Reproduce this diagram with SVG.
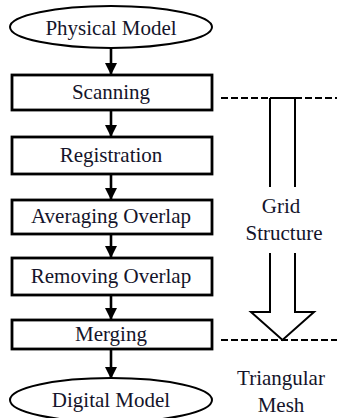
<svg xmlns="http://www.w3.org/2000/svg" width="337" height="418" viewBox="0 0 337 418">
<defs>
<style>
.box{fill:#fff;stroke:#000;stroke-width:2.8}
.oval{fill:#fff;stroke:#000;stroke-width:2}
.t{font-size:21px;fill:#14142a;text-anchor:middle}
.conn{stroke:#000;stroke-width:2.6;fill:none}
.dash{stroke:#000;stroke-width:2;stroke-dasharray:7 3;fill:none}
.big{stroke:#000;stroke-width:2;fill:none}
</style>
<marker id="ah" markerWidth="12" markerHeight="12" refX="11" refY="6" orient="auto" markerUnits="userSpaceOnUse">
<path d="M0,0 L12,6 L0,12 Z" fill="#000"/>
</marker>
</defs>
<rect width="337" height="418" fill="#fff"/>
<g id="connectors">
<line class="conn" x1="111" y1="48" x2="111" y2="74" marker-end="url(#ah)"/>
<line class="conn" x1="111" y1="111" x2="111" y2="136" marker-end="url(#ah)"/>
<line class="conn" x1="111" y1="175" x2="111" y2="199" marker-end="url(#ah)"/>
<line class="conn" x1="111" y1="235" x2="111" y2="257" marker-end="url(#ah)"/>
<line class="conn" x1="111" y1="296" x2="111" y2="319" marker-end="url(#ah)"/>
<line class="conn" x1="111" y1="350" x2="111" y2="378" marker-end="url(#ah)"/>
</g>
<g font-family="'Liberation Serif', 'Times New Roman', Times, serif">
<g id="physical-model">
<ellipse class="oval" cx="111" cy="27" rx="101" ry="21"/>
<text class="t" x="111" y="35">Physical Model</text>
</g>
<g id="scanning">
<rect class="box" x="12" y="75" width="200" height="35"/>
<text class="t" x="111" y="99">Scanning</text>
</g>
<g id="registration">
<rect class="box" x="12" y="137" width="200" height="37"/>
<text class="t" x="111" y="162">Registration</text>
</g>
<g id="averaging-overlap">
<rect class="box" x="12" y="200" width="200" height="34"/>
<text class="t" x="111" y="223">Averaging Overlap</text>
</g>
<g id="removing-overlap">
<rect class="box" x="12" y="258" width="200" height="37"/>
<text class="t" x="111" y="283">Removing Overlap</text>
</g>
<g id="merging">
<rect class="box" x="12" y="320" width="200" height="29"/>
<text class="t" x="111" y="341">Merging</text>
</g>
<g id="digital-model">
<ellipse class="oval" cx="111" cy="400" rx="101" ry="22"/>
<text class="t" x="111" y="407">Digital Model</text>
</g>
<g id="grid-structure-arrow">
<line class="dash" x1="221" y1="98" x2="270" y2="98"/>
<line class="dash" x1="295" y1="98" x2="337" y2="98"/>
<line class="big" x1="270" y1="98" x2="295" y2="98"/>
<line class="big" x1="270" y1="98" x2="270" y2="187"/>
<line class="big" x1="295" y1="98" x2="295" y2="187"/>
<path class="big" d="M270,253 L270,312 L251,312 L282.5,340 L314,312 L295,312 L295,253"/>
<line class="dash" x1="221" y1="340" x2="337" y2="340"/>
<text class="t" x="281" y="213">Grid</text>
<text class="t" x="284" y="240">Structure</text>
<text class="t" x="281" y="385">Triangular</text>
<text class="t" x="281" y="412">Mesh</text>
</g>
</g>
</svg>
